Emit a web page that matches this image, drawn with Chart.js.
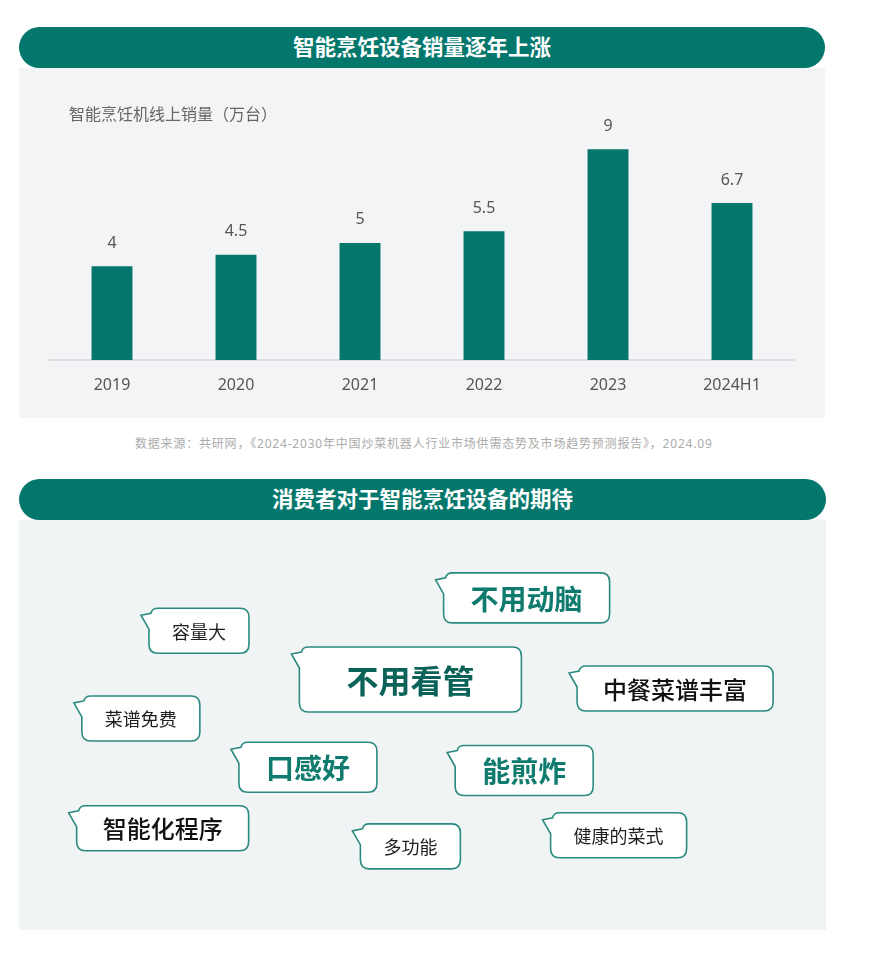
<!DOCTYPE html>
<html>
<head>
<meta charset="utf-8">
<script src="https://cdn.jsdelivr.net/npm/chart.js@4"></script>
<style>
  body { margin:0; background:#fff; font-family:"Noto Sans","Noto Sans CJK SC",sans-serif; }
  .head { position:absolute; left:19px; width:806px; height:41px; background:#04776D; border-radius:21px;
          color:#fff; font-weight:bold; font-size:21.5px; line-height:38px; text-align:center;
          font-family:"Noto Sans CJK SC",sans-serif; }
  .panel { position:absolute; left:19px; width:806px; }
  #ytitle { position:absolute; left:69px; top:101px; font-size:16px; color:#666; font-family:"Noto Sans CJK SC",sans-serif; }
  #source { position:absolute; left:135px; top:434px; white-space:nowrap; font-size:12px; color:#ABABAB;
            letter-spacing:0.8px; font-family:"Noto Sans","Noto Sans CJK SC",sans-serif; }
</style>
</head>
<body>
<div class="head" style="top:27px">智能烹饪设备销量逐年上涨</div>
<div class="panel" style="top:68px;height:350px;background:#F3F4F6">
  <canvas id="canvas"></canvas>
</div>
<div id="ytitle">智能烹饪机线上销量（万台）</div>
<div id="source">数据来源：共研网，《2024-2030年中国炒菜机器人行业市场供需态势及市场趋势预测报告》，2024.09</div>

<div class="head" style="top:479px;width:807px">消费者对于智能烹饪设备的期待</div>
<div class="panel" style="top:520px;height:410px;width:807px;background:#F0F4F5">
  <canvas id="canvas2"></canvas>
</div>

<script>
// sales per year (10k units)
let years = ['2019','2020','2021','2022','2023','2024H1'];
let sales = [4, 4.5, 5, 5.5, 9, 6.7];

// consumer wishes, position in the panel (percent) and how strong each one is
let wishes = ['不用动脑','容量大','不用看管','中餐菜谱丰富','菜谱免费','口感好','能煎炸','智能化程序','多功能','健康的菜式'];
let wishX = [62.9, 22.3, 48.5, 81.3, 15.1, 35.8, 62.6, 17.8, 48.5, 74.3];
let wishY = [19.0, 27.0, 38.9, 41.1, 48.4, 60.3, 61.1, 75.2, 79.6, 76.9];
let wishLevel = [3, 1, 4, 2, 1, 3, 3, 2, 1, 1];

const FONT = '"Noto Sans","Noto Sans CJK SC",sans-serif';
const CJK = '"Noto Sans CJK SC",sans-serif';

// value labels above bars
const valueLabels = {
    id: 'valueLabels',
    afterDatasetsDraw(chart){
        const ctx = chart.ctx;
        ctx.save();
        ctx.fillStyle = '#555';
        ctx.font = '16px ' + FONT;
        ctx.textAlign = 'center';
        ctx.textBaseline = 'middle';
        chart.getDatasetMeta(0).data.forEach((bar, i)=>{
            ctx.fillText(String(sales[i]), bar.x, bar.y - 23);
        });
        ctx.restore();
    }
};

let ctx = document.getElementById('canvas').getContext('2d');
let salesChart = new Chart(ctx, {
    type: 'bar',
    data: {
        labels: years,
        datasets: [{
            data: sales,
            backgroundColor: '#04776D',
            barPercentage: 0.33,
            categoryPercentage: 1
        }]
    },
    options: {
        responsive: true,
        maintainAspectRatio: false,
        animation: false,
        layout: { padding: { left: 31, right: 31, top: 11, bottom: 0 } },
        plugins: { legend: { display: false }, tooltip: { enabled: false } },
        scales: {
            x: {
                grid: { display: false, drawTicks: false },
                border: { display: true, color: '#DCDDE0', width: 2 },
                ticks: { color: '#555', font: { size: 16, family: FONT }, padding: 16 },
                afterFit(s){ s.height = 58; }
            },
            y: { display: false, min: 0, max: 12 }
        }
    },
    plugins: [valueLabels]
});

// speech bubble look per level
const levelStyle = {
    1: { size: 18, weight: 'normal', color: '#1E1E1E', pad: 23, h: 45 },
    2: { size: 24, weight: '500', color: '#111', pad: 26, h: 45 },
    3: { size: 28, weight: 'bold', color: '#0F7A6E', pad: 27, h: 50 },
    4: { size: 32, weight: 'bold', color: '#0B6258', pad: 47, h: 65 }
};

function bubblePath(c, x0, y0, w, h, r){
    c.beginPath();
    c.moveTo(x0 + r, y0);
    c.lineTo(x0 + w - r, y0);
    c.quadraticCurveTo(x0 + w, y0, x0 + w, y0 + r);
    c.lineTo(x0 + w, y0 + h - r);
    c.quadraticCurveTo(x0 + w, y0 + h, x0 + w - r, y0 + h);
    c.lineTo(x0 + r, y0 + h);
    c.quadraticCurveTo(x0, y0 + h, x0, y0 + h - r);
    c.lineTo(x0, y0 + 21);
    c.lineTo(x0 - 8, y0 + 7);
    c.lineTo(x0 + 2, y0 + 5);
    c.quadraticCurveTo(x0 + 3, y0, x0 + r, y0);
    c.closePath();
}

const bubbles = {
    id: 'bubbles',
    afterDatasetsDraw(chart){
        const c = chart.ctx;
        c.save();
        chart.getDatasetMeta(0).data.forEach((pt, i)=>{
            const st = levelStyle[wishLevel[i]];
            c.font = st.weight + ' ' + st.size + 'px ' + CJK;
            const tw = c.measureText(wishes[i]).width;
            const w = tw + st.pad * 2;
            const x0 = pt.x - w / 2, y0 = pt.y - st.h / 2;
            bubblePath(c, x0, y0, w, st.h, 9);
            c.fillStyle = '#fff';
            c.fill();
            c.lineWidth = 1.6;
            c.strokeStyle = '#2A8A80';
            c.stroke();
            c.fillStyle = st.color;
            c.textAlign = 'center';
            c.textBaseline = 'middle';
            c.fillText(wishes[i], pt.x, pt.y + 1);
        });
        c.restore();
    }
};

let ctx2 = document.getElementById('canvas2').getContext('2d');
let wishChart = new Chart(ctx2, {
    type: 'scatter',
    data: {
        datasets: [{
            data: wishes.map((w, i)=>({ x: wishX[i], y: wishY[i] })),
            pointRadius: 0
        }]
    },
    options: {
        responsive: true,
        maintainAspectRatio: false,
        animation: false,
        layout: { padding: 0 },
        plugins: { legend: { display: false }, tooltip: { enabled: false } },
        scales: {
            x: { display: false, min: 0, max: 100 },
            y: { display: false, min: 0, max: 100, reverse: true }
        }
    },
    plugins: [bubbles]
});
</script>
</body>
</html>
